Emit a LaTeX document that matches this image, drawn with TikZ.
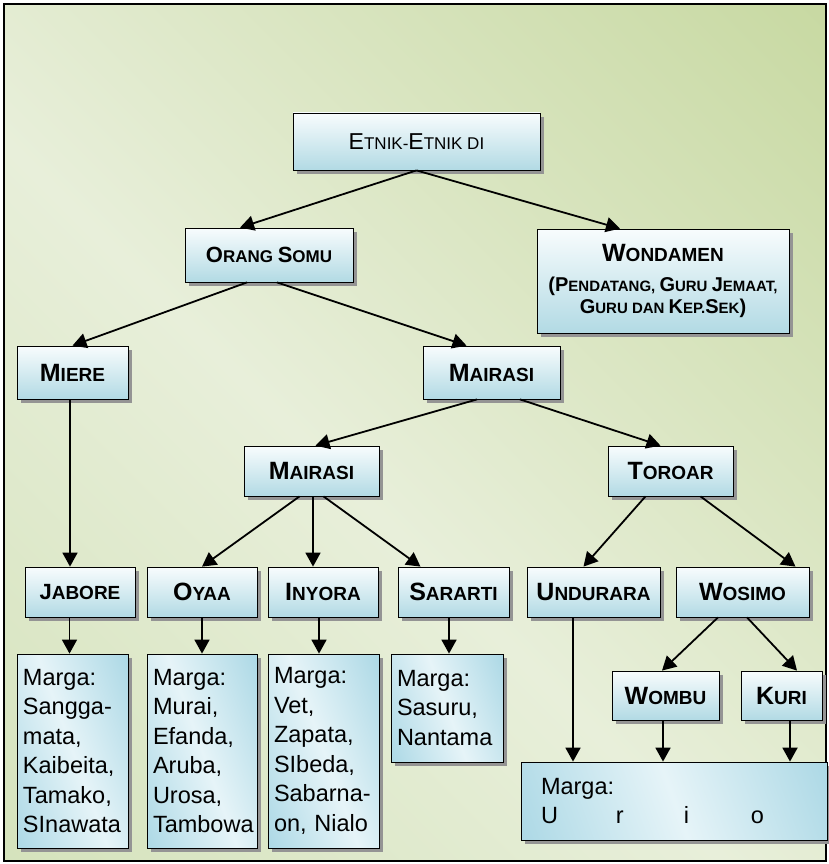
\documentclass[tikz,border=0pt]{standalone}
\usepackage{fontspec}
\setmainfont{Liberation Sans}
\usetikzlibrary{arrows.meta,shadows,calc}
\definecolor{bgA}{HTML}{CCDDAE}
\definecolor{bgB}{HTML}{E8EFDA}
\definecolor{bgC}{HTML}{BCD18E}
\definecolor{hdTop}{HTML}{F8FCFD}
\definecolor{hdBot}{HTML}{B2DAE4}
\definecolor{mgB}{HTML}{8CC9DB}
\definecolor{mgW}{HTML}{E6F4F8}
\pgfdeclarehorizontalshading{bgshade}{100bp}{color(0bp)=(bgA); color(45bp)=(bgB); color(100bp)=(bgC)}
\pgfdeclarehorizontalshading{mgshade}{100bp}{color(0bp)=(mgB); color(50bp)=(mgW); color(100bp)=(mgB)}
\newcommand\scx[4]{{\fontsize{#1}{#1}\selectfont #3}{\fontsize{#2}{#2}\selectfont #4}}
\newcommand\hd[2]{\scx{25}{19}{#1}{#2}}
\tikzset{
  shd/.style={drop shadow={shadow xshift=4pt,shadow yshift=-4pt,fill=black!42,opacity=1}},
  hbox/.style={draw=black, line width=0.8pt, top color=hdTop, bottom color=hdBot, shd, inner sep=0pt, font=\bfseries},
  mbox/.style={draw=black, line width=0.8pt, shading=mgshade, shading angle=20, shd, align=left, inner sep=6pt, font={\fontsize{23.5}{29.5}\selectfont}},
  arr/.style={-{Triangle[length=14pt,width=15pt]}, line width=1.8pt}
}
\begin{document}
\begin{tikzpicture}[x=1pt,y=-1pt]
\useasboundingbox (0,0) rectangle (828,864);
\shade[shading=bgshade, shading angle=45] (4,4) rectangle (826,861);
\draw[line width=1.6pt] (4,4) rectangle (826,861);

% headings
\node[hbox, font=\mdseries, minimum width=247pt, minimum height=57pt] (etnik) at (416.5,141.5) {\scx{23}{17}{E}{TNIK-}\scx{23}{17}{E}{TNIK DI}};
\node[hbox, minimum width=168pt, minimum height=54pt] (orang) at (269,255) {\scx{22}{17}{O}{RANG }\scx{22}{17}{S}{OMU}};
\node[hbox, align=center, font={\bfseries\fontsize{20}{22}\selectfont}, minimum width=252pt, minimum height=104pt] (wondamen) at (663,281)
  {\scx{25}{19}{W}{ONDAMEN}\\[8pt]\scx{20}{15}{(P}{ENDATANG, }\scx{20}{15}{G}{URU }\scx{20}{15}{J}{EMAAT,}\\\scx{20}{15}{G}{URU DAN }\scx{20}{15}{K}{EP.}\scx{20}{15}{S}{EK}{\fontsize{20}{20}\selectfont)}};
\node[hbox, minimum width=111pt, minimum height=53pt] (miere) at (72.5,372.5) {\hd{M}{IERE}};
\node[hbox, minimum width=137pt, minimum height=53pt] (mairasiA) at (491.5,372.5) {\hd{M}{AIRASI}};
\node[hbox, minimum width=135pt, minimum height=50pt] (mairasiB) at (311.5,471) {\hd{M}{AIRASI}};
\node[hbox, minimum width=125pt, minimum height=50pt] (toroar) at (670.5,471) {\hd{T}{OROAR}};
\node[hbox, minimum width=110pt, minimum height=50pt] (jabore) at (80,592) {\scx{22}{19}{J}{ABORE}};
\node[hbox, minimum width=110pt, minimum height=50pt] (oyaa) at (202,592) {\hd{O}{YAA}};
\node[hbox, minimum width=110pt, minimum height=50pt] (inyora) at (323,592) {\hd{I}{NYORA}};
\node[hbox, minimum width=111pt, minimum height=50pt] (sararti) at (453.5,592) {\hd{S}{ARARTI}};
\node[hbox, minimum width=133pt, minimum height=50pt] (undurara) at (593.5,592) {\hd{U}{NDURARA}};
\node[hbox, minimum width=133pt, minimum height=50pt] (wosimo) at (742.5,592) {\hd{W}{OSIMO}};
\node[hbox, minimum width=107pt, minimum height=49pt] (wombu) at (665.5,695.5) {\hd{W}{OMBU}};
\node[hbox, minimum width=81pt, minimum height=49pt] (kuri) at (781.5,695.5) {\hd{K}{URI}};

% marga boxes
\node[mbox, text width=99pt, minimum height=194pt] (mj) at (72.5,751) {Marga:\\Sangga-\\mata,\\Kaibeita,\\Tamako,\\SInawata};
\node[mbox, text width=98pt, minimum height=194pt] (mo) at (202,751) {Marga:\\Murai,\\Efanda,\\Aruba,\\Urosa,\\Tambowa};
\node[mbox, text width=99pt, minimum height=194pt] (mi) at (323.5,751) {Marga:\\Vet,\\Zapata,\\SIbeda,\\Sabarna-\\on, Nialo};
\node[mbox, text width=100pt, minimum height=108pt] (ms) at (447,708) {Marga:\\Sasuru,\\Nantama};
\node[mbox, inner xsep=20pt, text width=266pt, minimum height=78pt] (urio) at (674,801) {Marga:\\\makebox[75pt][l]{U}\makebox[68pt][l]{r}\makebox[67pt][l]{i}o};

% connectors
\draw[arr] (etnik.south) -- ([xshift=-29pt]orang.north);
\draw[arr] (etnik.south) -- ([xshift=-43pt]wondamen.north);
\draw[arr] ([xshift=-22pt]orang.south) -- (miere.north);
\draw[arr] ([xshift=8pt]orang.south) -- ([xshift=-25pt]mairasiA.north);
\draw[arr] ([xshift=-14.5pt]mairasiA.south) -- ([xshift=4pt]mairasiB.north);
\draw[arr] ([xshift=28.5pt]mairasiA.south) -- ([xshift=-10pt]toroar.north);
\draw[arr] ([xshift=-12pt]mairasiB.south) -- (oyaa.north);
\draw[arr] ([xshift=1.5pt]mairasiB.south) -- ($(mairasiB.south |- inyora.north)+(1.5,0)$);
\draw[arr] ([xshift=12pt]mairasiB.south) -- ([xshift=-33pt]sararti.north);
\draw[arr] ([xshift=-25pt]toroar.south) -- ([xshift=-10pt]undurara.north);
\draw[arr] ([xshift=30pt]toroar.south) -- ([xshift=53pt]wosimo.north);
\draw[arr] ([xshift=-24.5pt]wosimo.south) -- ([xshift=-3.5pt]wombu.north);
\draw[arr] ([xshift=4.5pt]wosimo.south) -- ([xshift=15.5pt]kuri.north);
\draw[arr] ([xshift=-2.5pt]miere.south) -- ($(miere.south |- jabore.north)+(-2.5,0)$);
\draw[arr] ($(jabore.south -| mj.north)+(-3,0)$) -- ($(mj.north)+(-3,0)$);
\draw[arr] (oyaa.south) -- (oyaa.south |- mo.north);
\draw[arr] ($(inyora.south)+(-4,0)$) -- ($(inyora.south |- mi.north)+(-4,0)$);
\draw[arr] ($(sararti.south)+(-4.5,0)$) -- ($(sararti.south |- ms.north)+(-4.5,0)$);
\draw[arr] ([xshift=-20.5pt]undurara.south) -- ($(undurara.south |- urio.north)+(-20.5,0)$);
\draw[arr] ([xshift=-2.5pt]wombu.south) -- ($(wombu.south |- urio.north)+(-2.5,0)$);
\draw[arr] ([xshift=8.5pt]kuri.south) -- ($(kuri.south |- urio.north)+(8.5,0)$);
\end{tikzpicture}
\end{document}
